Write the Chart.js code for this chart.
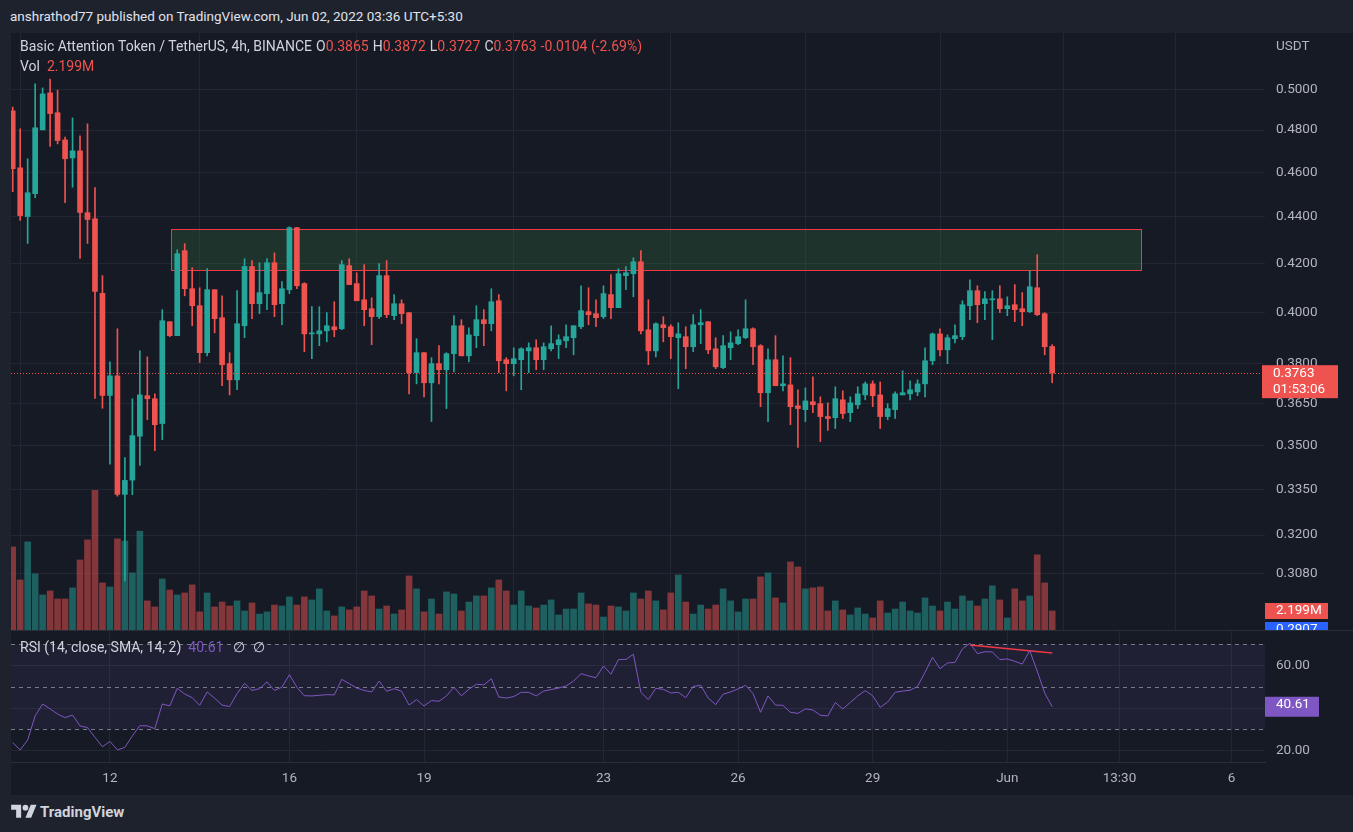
<!DOCTYPE html>
<html>
<head>
<meta charset="utf-8">
<title>BATUSDT 4h</title>
<script src="https://cdn.jsdelivr.net/npm/chart.js@4.4.1/dist/chart.umd.min.js"></script>
<style>
  body { margin:0; width:1353px; height:832px; background:#1e222d; overflow:hidden; position:relative;
         font-family: Roboto, "Liberation Sans", sans-serif; color:#d1d4dc; }
  .abs { position:absolute; white-space:nowrap; }
  #pane { left:11px; top:33px; width:1342px; height:762px; background:#161a25; }
  #sep { left:11px; top:630px; width:1342px; height:1px; background:#2a2e39; }
  canvas { position:absolute; left:0; }
  #priceCanvas { top:33px; }
  #rsiCanvas { top:631px; }
  .t14 { font-size:14px; line-height:16px; }
  .red { color:#ef5350; }
  .purple { color:#7e57c2; }
  .grey { color:#b2b5be; }
  .k { margin-left:4px; }
</style>
</head>
<body>
<div id="pane" class="abs"></div>
<div id="sep" class="abs"></div>
<canvas id="priceCanvas" width="1353" height="597"></canvas>
<canvas id="rsiCanvas" width="1353" height="164"></canvas>

<div class="abs" style="left:10px;top:8px;font-size:13.5px;line-height:16px;color:#e0e3eb;">anshrathod77 published on TradingView.com, Jun 02, 2022 03:36 UTC+5:30</div>
<div class="abs t14" style="left:20px;top:38px;">Basic Attention Token / TetherUS, 4h, BINANCE<span class="k">O</span><span class="red">0.3865</span><span class="k">H</span><span class="red">0.3872</span><span class="k">L</span><span class="red">0.3727</span><span class="k">C</span><span class="red">0.3763</span><span class="red k">-0.0104 (-2.69%)</span></div>
<div class="abs t14" style="left:20px;top:58px;">Vol&nbsp;&nbsp;<span class="red">2.199M</span></div>
<div class="abs grey" style="left:1276px;top:37px;font-size:13.5px;line-height:16px;">USDT</div>
<div class="abs t14" style="left:20px;top:639px;">RSI (14, close, SMA, 14, 2)<span class="purple" style="margin-left:7px;">40.61</span><span style="margin-left:10px;">∅</span><span style="margin-left:8px;">∅</span></div>
<div class="abs" style="left:10px;top:802px;display:flex;align-items:center;">
  <svg width="28" height="20" viewBox="0 0 36 28"><path fill="#d1d4dc" d="M14 22H7V11H0V4h14v18zM28 22h-8l7.5-18h8L28 22z"/><circle fill="#d1d4dc" cx="20" cy="8" r="4"/></svg>
  <span style="font-size:15px;font-weight:bold;margin-left:2px;color:#d1d4dc;">TradingView</span>
</div>

<script>
// 4h candles, index 0 = May 9 evening, index 139 = Jun 2
const opens = [
  0.4893,0.4622,0.4402,0.4504,0.4801,0.4982,0.4884,0.4753,0.4668,0.4701,
  0.4419,0.4392,0.4076,0.3680,0.3753,0.3333,0.3381,0.3533,0.3679,0.3668,
  0.3578,0.3962,0.3907,0.4254,0.4095,0.4026,0.3841,0.4091,0.3978,0.3799,
  0.3738,0.3946,0.4187,0.4034,0.4075,0.4203,0.4034,0.4091,0.4353,0.4116,
  0.3914,0.3914,0.3926,0.3942,0.3934,0.4191,0.4116,0.4050,0.4014,0.3982,
  0.4149,0.3986,0.4034,0.3998,0.3765,0.3841,0.3727,0.3799,0.3776,0.3837,
  0.3946,0.3829,0.3907,0.3970,0.3954,0.4046,0.3814,0.3799,0.3814,0.3848,
  0.3860,0.3814,0.3856,0.3872,0.3887,0.3899,0.3942,0.4002,0.3994,0.3982,
  0.4071,0.4018,0.4149,0.4157,0.4207,0.3930,0.3848,0.3950,0.3942,0.3899,
  0.3903,0.3864,0.3950,0.3962,0.3856,0.3784,0.3860,0.3876,0.3899,0.3934,
  0.3868,0.3690,0.3814,0.3716,0.3719,0.3642,0.3628,0.3657,0.3650,0.3603,
  0.3599,0.3664,0.3617,0.3646,0.3682,0.3723,0.3682,0.3603,0.3628,0.3682,
  0.3686,0.3693,0.3723,0.3810,0.3914,0.3852,0.3895,0.3903,0.4026,0.4087,
  0.4034,0.4050,0.4054,0.4014,0.4030,0.4014,0.4002,0.4099,0.3994,0.3865
];
const highs = [
  0.4912,0.4806,0.4664,0.5027,0.5007,0.5052,0.4996,0.4767,0.4859,0.4772,
  0.4830,0.4531,0.4149,0.3806,0.3934,0.3458,0.3668,0.3848,0.3825,0.3686,
  0.4010,0.3962,0.4258,0.4284,0.4182,0.4099,0.4178,0.4091,0.4066,0.3841,
  0.4087,0.4220,0.4212,0.4203,0.4220,0.4245,0.4124,0.4357,0.4353,0.4120,
  0.4022,0.4022,0.3998,0.4042,0.4212,0.4220,0.4161,0.4195,0.4058,0.4199,
  0.4212,0.4071,0.4050,0.3998,0.3895,0.3841,0.3822,0.3868,0.3841,0.3986,
  0.3970,0.3938,0.4026,0.4010,0.4095,0.4071,0.3822,0.3860,0.3860,0.3879,
  0.3891,0.3879,0.3946,0.3910,0.3950,0.3946,0.4107,0.4099,0.4050,0.4107,
  0.4153,0.4178,0.4187,0.4224,0.4254,0.4050,0.3958,0.3982,0.3950,0.3958,
  0.3942,0.3990,0.4010,0.3962,0.3899,0.3907,0.3922,0.3930,0.4050,0.3938,
  0.3872,0.3856,0.3907,0.3829,0.3822,0.3701,0.3708,0.3749,0.3675,0.3653,
  0.3712,0.3697,0.3675,0.3712,0.3730,0.3734,0.3730,0.3650,0.3693,0.3772,
  0.3734,0.3738,0.3860,0.3918,0.3934,0.3910,0.3950,0.4046,0.4132,0.4107,
  0.4083,0.4087,0.4107,0.4062,0.4112,0.4079,0.4170,0.4237,0.3998,0.3872
];
const lows = [
  0.4513,0.4385,0.4285,0.4486,0.4801,0.4722,0.4734,0.4464,0.4533,0.4221,
  0.4285,0.3669,0.3633,0.3435,0.3327,0.3056,0.3332,0.3431,0.3592,0.3482,
  0.3521,0.3903,0.3907,0.4066,0.3946,0.3803,0.3829,0.3918,0.3716,0.3682,
  0.3701,0.3899,0.3974,0.3994,0.4010,0.3982,0.3950,0.4075,0.4095,0.3845,
  0.3818,0.3868,0.3883,0.3903,0.3930,0.4112,0.4046,0.3946,0.3872,0.3974,
  0.3978,0.3970,0.3954,0.3686,0.3723,0.3675,0.3585,0.3723,0.3632,0.3768,
  0.3829,0.3806,0.3860,0.3868,0.3926,0.3765,0.3697,0.3753,0.3701,0.3765,
  0.3776,0.3776,0.3848,0.3818,0.3860,0.3833,0.3934,0.3950,0.3942,0.3974,
  0.3974,0.4018,0.4091,0.4062,0.3914,0.3795,0.3825,0.3883,0.3818,0.3705,
  0.3780,0.3845,0.3876,0.3837,0.3780,0.3780,0.3814,0.3872,0.3895,0.3795,
  0.3639,0.3585,0.3716,0.3697,0.3574,0.3493,0.3585,0.3617,0.3514,0.3553,
  0.3560,0.3596,0.3585,0.3632,0.3664,0.3639,0.3560,0.3592,0.3596,0.3682,
  0.3664,0.3679,0.3675,0.3795,0.3829,0.3799,0.3879,0.3891,0.3970,0.3958,
  0.3970,0.3891,0.3998,0.3986,0.3962,0.3946,0.3998,0.3986,0.3833,0.3727
];
const closes = [
  0.4618,0.4406,0.4508,0.4811,0.4977,0.4880,0.4750,0.4664,0.4701,0.4420,
  0.4389,0.4084,0.3680,0.3753,0.3333,0.3380,0.3535,0.3682,0.3668,0.3574,
  0.3966,0.3907,0.4241,0.4095,0.4026,0.3841,0.4091,0.3974,0.3795,0.3738,
  0.3954,0.4187,0.4034,0.4079,0.4203,0.4030,0.4095,0.4353,0.4107,0.3914,
  0.3918,0.3926,0.3946,0.3930,0.4195,0.4112,0.4046,0.4010,0.3982,0.4149,
  0.3990,0.4034,0.3994,0.3765,0.3841,0.3727,0.3799,0.3776,0.3837,0.3946,
  0.3829,0.3910,0.3970,0.3954,0.4042,0.3810,0.3799,0.3818,0.3856,0.3860,
  0.3814,0.3864,0.3876,0.3891,0.3903,0.3946,0.4006,0.3990,0.3978,0.4075,
  0.4018,0.4157,0.4161,0.4207,0.3926,0.3848,0.3954,0.3938,0.3903,0.3914,
  0.3864,0.3950,0.3958,0.3852,0.3787,0.3868,0.3879,0.3903,0.3934,0.3864,
  0.3690,0.3814,0.3716,0.3723,0.3639,0.3632,0.3660,0.3646,0.3603,0.3596,
  0.3668,0.3614,0.3653,0.3686,0.3723,0.3679,0.3603,0.3632,0.3686,0.3690,
  0.3701,0.3723,0.3810,0.3914,0.3852,0.3899,0.3907,0.4030,0.4087,0.4030,
  0.4054,0.4054,0.4014,0.4026,0.4010,0.4002,0.4103,0.3990,0.3864,0.3763
];
// volume in millions
const volumes = [
  9.62,5.79,10.20,6.50,4.06,4.52,3.59,3.59,4.87,8.11,
  10.43,16.16,5.45,4.98,10.55,10.30,6.61,11.44,3.37,2.67,
  5.91,4.63,4.06,4.29,5.22,2.09,4.29,2.67,3.24,2.78,
  3.37,2.20,3.13,1.85,2.09,2.89,2.78,3.83,2.89,3.83,
  3.48,4.76,2.20,1.63,2.67,2.32,2.67,4.52,3.94,2.43,
  2.78,1.85,2.32,6.26,4.76,2.09,3.59,1.85,4.41,4.17,
  2.20,3.24,3.94,3.94,4.87,5.79,4.52,2.89,4.52,2.78,
  2.55,2.89,3.48,1.74,2.43,2.43,4.29,3.02,2.89,1.50,
  2.78,2.67,2.20,4.29,3.59,4.52,3.37,2.32,4.29,6.37,
  3.24,1.85,2.89,2.43,2.89,4.76,3.37,2.09,3.59,3.59,
  6.15,6.61,3.71,3.13,7.88,7.30,4.76,4.87,4.98,2.20,
  3.37,2.32,1.74,2.55,1.85,1.39,3.37,1.97,2.43,3.24,
  2.20,1.97,3.71,2.78,2.20,3.24,2.43,3.94,3.37,2.78,
  3.59,5.11,3.48,1.39,4.76,3.37,3.94,8.70,5.45,2.199
];
const rsi = [
  23.7,20.3,25.0,36.3,41.9,39.6,37.2,35.5,36.7,31.6,
  30.8,26.2,21.8,24.3,20.3,21.5,26.9,31.7,31.6,30.3,
  41.9,41.0,49.3,46.6,44.9,41.3,47.6,44.6,41.4,40.7,
  46.8,51.6,48.3,49.1,52.3,48.3,49.8,55.7,49.8,45.8,
  45.7,46.0,46.3,46.2,53.5,51.5,49.4,48.3,47.6,52.7,
  47.9,49.1,47.9,41.4,44.0,41.0,43.5,43.2,45.7,49.8,
  45.8,48.8,51.2,50.9,53.8,45.2,44.7,45.4,47.4,47.4,
  45.7,48.0,48.7,49.4,50.4,52.7,56.2,55.1,54.3,59.8,
  55.9,62.8,62.9,65.3,47.4,44.0,49.3,48.8,47.1,47.4,
  44.9,50.2,50.7,44.7,41.6,46.5,47.6,49.0,50.7,46.8,
  38.0,45.7,41.4,41.3,38.0,37.5,39.6,39.1,36.6,36.3,
  42.6,39.6,42.6,45.7,48.2,45.8,40.3,42.8,47.4,48.0,
  48.4,50.2,56.8,63.9,58.5,61.2,61.5,67.8,70.5,65.6,
  66.5,66.4,62.8,63.1,62.0,60.7,67.0,57.4,47.1,40.61
];

// time axis: candle index of each day label
const dayTicks = [13, 37, 55, 79, 97, 115, 133, 148, 163];
const dayLabels = ['12', '16', '19', '23', '26', '29', 'Jun', '13:30', '6'];
const priceTicks = [0.308, 0.32, 0.335, 0.35, 0.365, 0.38, 0.40, 0.42, 0.44, 0.46, 0.48, 0.50];
const rsiTicks = [20, 40, 60];
const rsiLevels = [70, 50, 30];

// supply zone drawn on the chart (candle index range, price range)
const zoneStart = 21.1, zoneEnd = 150.9;
const zoneLow = 0.4173, zoneHigh = 0.4347;
// RSI divergence line
const trendX = [128, 139];
const trendY = [69.7, 65.9];
const countdown = '01:53:06';

const GREEN = '#26a69a', RED = '#ef5350', PURPLE = '#7e57c2';
const GRID = '#232734', BORDER = '#2a2e39', TXT = '#b2b5be';
const FONT = 'Roboto, "Liberation Sans", sans-serif';
const AXIS_FONT = { family: FONT, size: 13.5 };

const n = closes.length;
const last = n - 1;
const up = closes.map((c, i) => c >= opens[i]);
const candleColors = up.map(u => u ? GREEN : RED);
const volColors = up.map(u => u ? 'rgba(38,166,154,0.5)' : 'rgba(239,83,80,0.5)');

const xRange = { min: -0.23, max: 167.46 };

function noPad(s) {
    s.paddingTop = 0; s.paddingBottom = 0; s.paddingLeft = 0; s.paddingRight = 0;
}

function labelBox(ctx, x, y, w, h, bg, lines) {
    ctx.fillStyle = bg;
    ctx.fillRect(x, y - 8, w, h);
    ctx.fillStyle = '#ffffff';
    ctx.font = '13.5px ' + FONT;
    ctx.textAlign = 'left';
    ctx.textBaseline = 'middle';
    lines.forEach((t, k) => ctx.fillText(t, x + 11, y + k * 16));
}

const pricePane = {
    id: 'pricePane',
    beforeDatasetsDraw(chart) {
        const { ctx, scales: { x, y } } = chart;
        const x0 = Math.round(x.getPixelForValue(zoneStart)) + 0.5;
        const x1 = Math.round(x.getPixelForValue(zoneEnd)) + 0.5;
        const y0 = Math.round(y.getPixelForValue(zoneHigh)) + 0.5;
        const y1 = Math.round(y.getPixelForValue(zoneLow)) + 0.5;
        ctx.save();
        ctx.fillStyle = 'rgba(67,160,71,0.19)';
        ctx.fillRect(x0, y0, x1 - x0, y1 - y0);
        ctx.strokeStyle = '#f23645';
        ctx.lineWidth = 1;
        ctx.strokeRect(x0, y0, x1 - x0, y1 - y0);
        ctx.restore();
    },
    afterDatasetsDraw(chart) {
        const { ctx, chartArea: a, scales: { y } } = chart;
        const yy = Math.round(y.getPixelForValue(closes[last])) + 0.5;
        ctx.save();
        ctx.strokeStyle = RED;
        ctx.lineWidth = 1;
        ctx.setLineDash([1, 2]);
        ctx.beginPath();
        ctx.moveTo(a.left, yy);
        ctx.lineTo(a.right, yy);
        ctx.stroke();
        ctx.restore();
    },
    afterDraw(chart) {
        const { ctx, chartArea: a, scales: { y, vol } } = chart;
        ctx.save();
        labelBox(ctx, a.right, vol.getPixelForValue(0), 63, 16, '#2962ff', ['0.2907']);
        labelBox(ctx, a.right, vol.getPixelForValue(volumes[last]), 63, 16, RED, [volumes[last].toFixed(3) + 'M']);
        labelBox(ctx, a.right - 3, y.getPixelForValue(closes[last]), 76, 33, RED,
            [closes[last].toFixed(4), countdown]);
        ctx.restore();
    }
};

const rsiPane = {
    id: 'rsiPane',
    beforeDatasetsDraw(chart) {
        const { ctx, chartArea: a, scales: { y } } = chart;
        const top = y.getPixelForValue(rsiLevels[0]);
        const bot = y.getPixelForValue(rsiLevels[2]);
        ctx.save();
        ctx.fillStyle = 'rgba(126,87,194,0.1)';
        ctx.fillRect(a.left, top, a.right - a.left, bot - top);
        ctx.strokeStyle = '#787b86';
        ctx.lineWidth = 1;
        ctx.setLineDash([4, 4]);
        rsiLevels.forEach(v => {
            const yy = Math.round(y.getPixelForValue(v)) + 0.5;
            ctx.beginPath();
            ctx.moveTo(a.left, yy);
            ctx.lineTo(a.right, yy);
            ctx.stroke();
        });
        ctx.restore();
    },
    afterDraw(chart) {
        const { ctx, chartArea: a, scales: { y } } = chart;
        ctx.save();
        labelBox(ctx, a.right, y.getPixelForValue(rsi[last]) - 2, 54, 20, PURPLE, [rsi[last].toFixed(2)]);
        ctx.restore();
    }
};

new Chart(document.getElementById('priceCanvas'), {
    type: 'bar',
    data: {
        datasets: [
            {
                label: 'Body',
                data: closes.map((c, i) => ({ x: i, y: [opens[i], c] })),
                backgroundColor: candleColors,
                barThickness: 5,
                minBarLength: 1,
                grouped: false,
                order: 1
            },
            {
                label: 'Wick',
                data: closes.map((c, i) => ({ x: i, y: [lows[i], highs[i]] })),
                backgroundColor: candleColors,
                barThickness: 1,
                grouped: false,
                order: 2
            },
            {
                label: 'Vol',
                data: volumes.map((v, i) => ({ x: i, y: v })),
                backgroundColor: volColors,
                barThickness: 6,
                grouped: false,
                yAxisID: 'vol',
                order: 3
            }
        ]
    },
    options: {
        responsive: false,
        animation: false,
        events: [],
        layout: { padding: { left: 11, right: 0, top: 0, bottom: 0 } },
        plugins: { legend: { display: false }, tooltip: { enabled: false } },
        scales: {
            x: {
                type: 'linear', min: xRange.min, max: xRange.max, offset: false, bounds: 'data',
                afterBuildTicks: s => { s.ticks = dayTicks.map(v => ({ value: v })); },
                ticks: { display: false },
                grid: { color: GRID, drawTicks: false },
                border: { display: false },
                afterFit: s => { s.height = 0; noPad(s); }
            },
            y: {
                type: 'logarithmic', position: 'right', min: 0.29098, max: 0.52899, bounds: 'data',
                afterBuildTicks: s => { s.ticks = priceTicks.map(v => ({ value: v })); },
                ticks: {
                    color: TXT, padding: 11, font: AXIS_FONT,
                    callback: v => Number(v).toFixed(4)
                },
                grid: { color: GRID, drawTicks: false },
                border: { display: false },
                afterFit: s => { s.width = 88; noPad(s); }
            },
            vol: { type: 'linear', display: false, min: 0, max: 69.1 }
        }
    },
    plugins: [pricePane]
});

new Chart(document.getElementById('rsiCanvas'), {
    type: 'line',
    data: {
        datasets: [
            {
                label: 'RSI',
                data: rsi.map((v, i) => ({ x: i, y: v })),
                borderColor: PURPLE,
                borderWidth: 1,
                pointRadius: 0,
                tension: 0
            },
            {
                label: 'Divergence',
                data: trendX.map((v, i) => ({ x: v, y: trendY[i] })),
                borderColor: '#f23645',
                borderWidth: 1.5,
                pointRadius: 0
            }
        ]
    },
    options: {
        responsive: false,
        animation: false,
        events: [],
        layout: { padding: { left: 11, right: 0, top: 0, bottom: 0 } },
        plugins: { legend: { display: false }, tooltip: { enabled: false } },
        scales: {
            x: {
                type: 'linear', min: xRange.min, max: xRange.max, offset: false, bounds: 'data',
                afterBuildTicks: s => { s.ticks = dayTicks.map(v => ({ value: v })); },
                ticks: {
                    color: TXT, padding: 9, autoSkip: false, maxRotation: 0,
                    font: AXIS_FONT,
                    callback: (v, i) => dayLabels[i]
                },
                grid: { color: GRID, drawTicks: false },
                border: { display: true, color: BORDER },
                afterFit: s => { s.height = 33; noPad(s); }
            },
            y: {
                type: 'linear', position: 'right', min: 14.61, max: 76.26, bounds: 'data',
                afterBuildTicks: s => { s.ticks = rsiTicks.map(v => ({ value: v })); },
                ticks: {
                    color: TXT, padding: 11, font: AXIS_FONT,
                    callback: v => Number(v).toFixed(2)
                },
                grid: { color: GRID, drawTicks: false },
                border: { display: false },
                afterFit: s => { s.width = 88; noPad(s); }
            }
        }
    },
    plugins: [rsiPane]
});
</script>
</body>
</html>
